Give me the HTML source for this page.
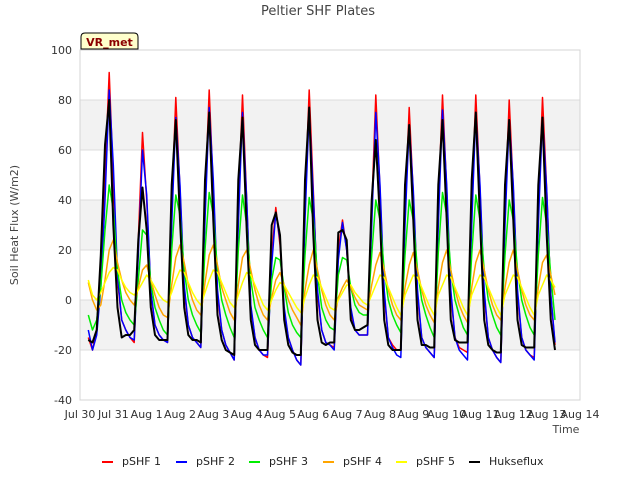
<!DOCTYPE html>
<html><head><meta charset="utf-8"><style>
body{margin:0;background:#fff;width:640px;height:480px;overflow:hidden}
svg text{font-family:"DejaVu Sans","Liberation Sans",sans-serif}
</style></head><body>
<svg id="chart" width="640" height="480" viewBox="0 0 640 480" xmlns="http://www.w3.org/2000/svg">
<rect width="640" height="480" fill="#fff"/>
<g id="bands"></g>
<g id="grid"></g>
<rect x="80" y="50" width="500" height="350" fill="none" stroke="#d4d4d4"/>
<g id="series"></g>
<g id="axes"></g>
<text x="318" y="15" text-anchor="middle" font-size="13" fill="#444">Peltier SHF Plates</text>
<text transform="translate(18,225) rotate(-90)" text-anchor="middle" font-size="11" fill="#444">Soil Heat Flux (W/m2)</text>
<text x="566" y="433" text-anchor="middle" font-size="11" fill="#444">Time</text>
<g>
<path d="M81,49 L81,37 Q81,33 85,33 L134,33 Q138,33 138,37 L138,49 Z" fill="#ffffcc" stroke="#000"/>
<text x="109.5" y="46" text-anchor="middle" font-size="11" font-weight="bold" fill="#8b0000">VR_met</text>
</g>
<g id="legend"></g>
</svg>
<script>
const yTicks=[100,80,60,40,20,0,-20,-40];
const xTickLabels=["Jul 30","Jul 31","Aug 1","Aug 2","Aug 3","Aug 4","Aug 5","Aug 6","Aug 7","Aug 8","Aug 9","Aug 10","Aug 11","Aug 12","Aug 13","Aug 14"];
const seriesNames=["pSHF 1","pSHF 2","pSHF 3","pSHF 4","pSHF 5","Hukseflux"];
const seriesColors=["#ff0000","#0000ff","#00ee00","#ffa500","#ffff00","#000000"];
const startDay=0.25, stepDay=0.125;
const pSHF1=[-15,-20,-12,10,50,91,
48,8,-8,-12,-15,-17,24,67,
40,3,-10,-14,-16,-17,38,81,
44,4,-10,-15,-17,-19,40,84,
44,2,-12,-18,-21,-24,38,82,
40,-3,-15,-20,-22,-23,18,37,
22,-5,-15,-20,-24,-26,40,84,
44,2,-12,-17,-18,-19,20,32,
20,-5,-12,-14,-14,-14,36,82,
44,2,-15,-18,-20,-20,36,77,
42,2,-15,-19,-21,-23,38,82,
44,2,-15,-19,-20,-21,38,82,
44,2,-15,-20,-23,-25,36,80,
44,2,-15,-20,-22,-23,36,81,
44,2,-18];
const pSHF2=[-12,-20,-14,5,40,84,
54,10,-8,-12,-15,-16,18,60,
42,4,-10,-14,-16,-17,30,73,
46,6,-10,-15,-17,-19,32,77,
48,4,-12,-18,-21,-24,30,75,
40,-2,-15,-20,-22,-22,14,35,
24,-3,-15,-20,-24,-26,32,76,
42,4,-12,-17,-18,-20,16,31,
20,-3,-12,-14,-14,-14,30,75,
46,4,-15,-19,-22,-23,30,70,
44,4,-15,-19,-21,-23,30,76,
46,4,-15,-20,-22,-24,30,75,
46,4,-15,-20,-23,-25,30,72,
46,4,-15,-20,-22,-24,30,73,
44,2,-17];
const pSHF3=[-6,-12,-8,5,28,46,
36,12,0,-5,-8,-10,8,28,
26,7,-3,-8,-12,-14,20,42,
34,12,0,-6,-10,-13,20,43,
34,12,0,-6,-11,-15,20,42,
30,8,-3,-8,-12,-15,8,17,
16,5,-5,-10,-13,-15,18,41,
32,10,-3,-8,-11,-12,10,17,
16,5,-2,-5,-6,-6,18,40,
32,12,0,-6,-10,-13,18,40,
32,12,0,-6,-11,-15,19,43,
34,12,0,-6,-11,-14,18,42,
32,12,0,-6,-11,-14,18,40,
32,12,0,-6,-11,-14,18,41,
30,10,-8];
const pSHF4=[7,0,-4,-2,8,20,
24,15,8,3,0,-2,5,12,
14,8,2,-3,-6,-7,6,17,
22,15,6,0,-4,-6,7,18,
22,14,5,0,-5,-8,6,17,
20,12,4,-2,-6,-8,1,8,
11,6,0,-4,-7,-10,4,14,
20,12,4,-2,-6,-8,1,5,
8,5,1,-2,-3,-4,6,14,
19,12,4,-2,-6,-8,5,14,
19,12,4,-2,-6,-9,5,15,
20,12,4,-2,-6,-9,5,15,
20,12,4,-2,-6,-8,5,15,
20,12,4,-2,-6,-8,5,15,
18,10,2];
const pSHF5=[8,2,0,3,7,11,
13,12,8,5,3,2,4,7,
10,8,5,2,0,-1,3,8,
12,11,7,3,0,-2,3,8,
12,11,7,3,-1,-3,2,7,
11,10,6,2,-2,-4,0,4,
7,6,3,0,-3,-5,1,6,
10,9,5,1,-3,-4,0,3,
6,6,3,1,-1,-2,2,6,
10,9,5,1,-3,-6,2,6,
10,9,5,1,-3,-6,2,6,
10,9,5,1,-3,-6,2,6,
10,9,5,1,-3,-6,2,6,
10,9,5,1,-3,-6,2,6,
10,8,5];
const hukseflux=[-16,-17,-12,18,62,80,
30,-3,-15,-14,-14,-12,24,45,
28,-3,-14,-16,-16,-16,46,72,
32,-3,-14,-16,-16,-17,48,75,
32,-6,-16,-20,-21,-22,48,73,
28,-8,-18,-20,-20,-20,30,35,
26,-8,-18,-21,-22,-22,48,77,
26,-8,-17,-18,-17,-17,27,28,
24,-8,-12,-12,-11,-10,40,64,
32,-8,-18,-20,-20,-20,46,70,
32,-8,-18,-18,-19,-19,46,72,
32,-8,-16,-17,-17,-17,48,75,
32,-8,-18,-20,-21,-21,46,72,
32,-8,-18,-19,-19,-19,46,73,
26,-8,-20];
const allSeries=[pSHF1,pSHF2,pSHF3,pSHF4,pSHF5,hukseflux];

const NS="http://www.w3.org/2000/svg";
const X0=80,X1=580,Y0=400,Y1=50;
function xScale(d){return X0+d*(X1-X0)/(xTickLabels.length-1);}
function yScale(v){return Y0-(v-(-40))*(Y0-Y1)/140;}
function mk(tag,attrs,parent){const e=document.createElementNS(NS,tag);for(const k in attrs)e.setAttribute(k,attrs[k]);parent.appendChild(e);return e;}

const bands=document.getElementById('bands');
for(let i=0;i<yTicks.length-1;i++){
  if(i%2===1){
    const r=mk('rect',{x:X0,y:yScale(yTicks[i]),width:X1-X0,height:yScale(yTicks[i+1])-yScale(yTicks[i]),fill:'#f2f2f2'},bands);
    
    
  }
}
const grid=document.getElementById('grid');
const axes=document.getElementById('axes');
yTicks.forEach(v=>{
  const l=mk('line',{x1:X0,x2:X1,y1:yScale(v),y2:yScale(v),stroke:'#dcdcdc','stroke-width':1},grid);
  
  
  const t=mk('text',{x:X0-8,y:yScale(v)+4,'text-anchor':'end','font-size':'11',fill:'#333'},axes);
  
  
  t.textContent=v;
});
xTickLabels.forEach((s,i)=>{
  const t=mk('text',{x:xScale(i),y:418,'text-anchor':'middle','font-size':'11',fill:'#333'},axes);
  
  
  t.textContent=s;
});
const sg=document.getElementById('series');
allSeries.forEach((arr,si)=>{
  const pts=arr.map((v,i)=>xScale(startDay+i*stepDay).toFixed(1)+','+yScale(v).toFixed(1)).join(' ');
  const p=mk('polyline',{points:pts,fill:'none',stroke:seriesColors[si],'stroke-width':si===5?2:1.5,'stroke-linejoin':'round'},sg);
  
  
});
const lg=document.getElementById('legend');
const legX=[102,176,249,323,396,469];
seriesNames.forEach((n,i)=>{
  const g=mk('g',{},lg);
  
  
  mk('line',{x1:legX[i],x2:legX[i]+11,y1:462,y2:462,stroke:seriesColors[i],'stroke-width':2},g);
  const t=mk('text',{x:legX[i]+20,y:465,'font-size':'11',fill:'#222'},g);
  t.textContent=n;
});
</script>
</body></html>
